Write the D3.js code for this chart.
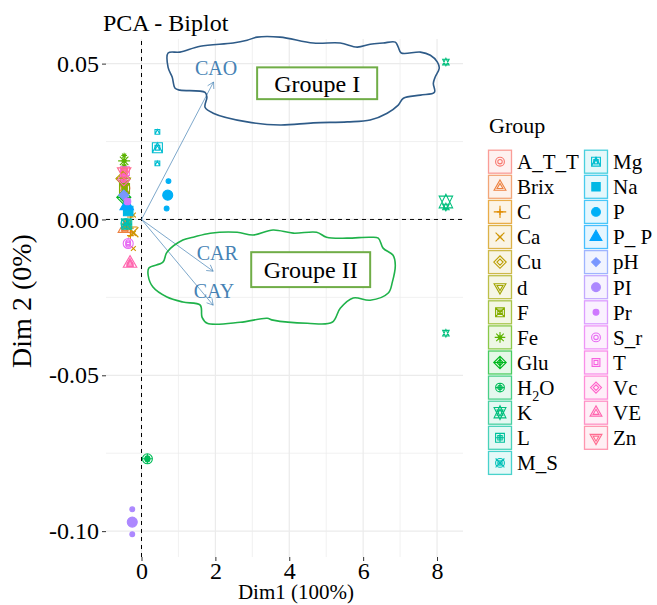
<!DOCTYPE html>
<html><head><meta charset="utf-8">
<script src="https://cdn.jsdelivr.net/npm/d3@7"></script>
<style>body{margin:0;background:#fff}text{font-family:"Liberation Serif","Times New Roman",serif}</style>
</head><body>
<svg id="c" width="657" height="605"></svg>
<script>
// ---------------- DATA ----------------
const groups = ["A_T_T","Brix","C","Ca","Cu","d","F","Fe","Glu","H2O","K","L","M_S","Mg","Na","P","P_P","pH","PI","Pr","S_r","T","Vc","VE","Zn"];
const legendLabels = ["A_T_T","Brix","C","Ca","Cu","d","F","Fe","Glu","H2O","K","L","M_S","Mg","Na","P","P_ P","pH","PI","Pr","S_r","T","Vc","VE","Zn"];
// individual points (3 per group)
const ptGroup = groups.flatMap(g => [g, g, g]);
const ptX = [
 -0.45,-0.45,-0.45,  -0.45,-0.45,-0.45,  -0.30,-0.30,-0.30,  -0.22,-0.22,-0.22,  -0.50,-0.50,-0.50,
 -0.48,-0.48,-0.48,  -0.46,-0.46,-0.46,  -0.47,-0.47,-0.47,  -0.48,-0.48,-0.48,   0.16, 0.16, 0.16,
  8.24, 8.24, 8.24,  -0.40,-0.40,-0.40,  -0.42,-0.42,-0.42,   0.43, 0.43, 0.43,  -0.36,-0.36,-0.36,
  0.73, 0.73, 0.68,  -0.40,-0.40,-0.40,  -0.48,-0.48,-0.48,  -0.25,-0.25,-0.25,  -0.38,-0.38,-0.38,
 -0.36,-0.36,-0.36,  -0.45,-0.45,-0.45,  -0.48,-0.48,-0.48,  -0.31,-0.31,-0.31,  -0.47,-0.47,-0.47];
const ptY = [
  0.0110, 0.0100, 0.0090,  -0.0024,-0.0029,-0.0034,   0.0008,-0.0028,-0.0052,   0.0014,-0.0045,-0.0093,   0.0138, 0.0131, 0.0124,
  0.0126, 0.0120, 0.0114,   0.0104, 0.0099, 0.0094,   0.0205, 0.0188, 0.0171,   0.0075, 0.0071, 0.0067,  -0.0766,-0.0768,-0.0770,
  0.0505, 0.0040,-0.0365,  -0.0010,-0.0015,-0.0020,  -0.0008,-0.0013,-0.0018,   0.0281, 0.0230, 0.0180,   0.0031, 0.0027, 0.0023,
  0.0123, 0.0076, 0.0035,   0.0048, 0.0044, 0.0040,   0.0082, 0.0078, 0.0074,  -0.0930,-0.0971,-0.1010,   0.0062, 0.0058, 0.0054,
 -0.0073,-0.0077,-0.0081,   0.0159, 0.0155, 0.0151,   0.0132, 0.0128, 0.0124,  -0.0137,-0.0141,-0.0145,   0.0157, 0.0153, 0.0149];
// group mean points
const meanX = [-0.45,-0.45,-0.30,-0.22,-0.50,-0.48,-0.46,-0.47,-0.48,0.16,8.24,-0.40,-0.42,0.43,-0.36,0.71,-0.40,-0.48,-0.25,-0.38,-0.36,-0.45,-0.48,-0.31,-0.47];
const meanY = [0.0100,-0.0029,-0.0024,-0.0041,0.0131,0.0120,0.0099,0.0188,0.0071,-0.0768,0.0056,-0.0015,-0.0013,0.0230,0.0027,0.0078,0.0044,0.0078,-0.0971,0.0058,-0.0077,0.0155,0.0128,-0.0141,0.0153];
// variables
const varNames = ["CAO","CAR","CAY"];
const varX = [1.95, 1.94, 1.94];
const varY = [0.0441, -0.0166, -0.0275];
const varLabX = [2.02, 2.05, 1.96];
const varLabY = [0.0485, -0.0108, -0.0230];
// axis ticks
const xTicks = [0, 2, 4, 6, 8];
const xMinor = [1, 3, 5, 7];
const yTicks = [-0.10, -0.05, 0.00, 0.05];
const yTickLabels = ["-0.10", "-0.05", "0.00", "0.05"];
const yMinor = [-0.075, -0.025, 0.025];
// hand-drawn group outlines (data units)
const blobI = [[0.72,0.0534],[1.04,0.0537],[1.59,0.0556],[2.48,0.0566],[2.86,0.0575],[3.13,0.0585],[3.75,0.0585],[4.65,0.0566],[5.38,0.0566],[5.84,0.0553],[6.19,0.0562],[6.54,0.0566],[6.87,0.0569],[6.95,0.0553],[7.03,0.0534],[7.55,0.0537],[7.82,0.0527],[8.01,0.0505],[8.06,0.0485],[7.95,0.0457],[7.90,0.0437],[7.93,0.0408],[7.55,0.0399],[7.09,0.0389],[6.95,0.0367],[6.65,0.0341],[6.19,0.0319],[5.57,0.0313],[4.65,0.0310],[3.75,0.0303],[2.86,0.0313],[1.94,0.0341],[1.72,0.0360],[1.77,0.0392],[1.72,0.0408],[1.04,0.0415],[0.91,0.0421],[0.83,0.0457],[0.72,0.0488]];
const blobII = [[0.20,-0.0156],[0.58,-0.0137],[0.69,-0.0105],[1.12,-0.0066],[1.40,-0.0057],[1.86,-0.0044],[2.59,-0.0041],[3.02,-0.0050],[3.56,-0.0034],[4.11,-0.0044],[4.74,-0.0041],[5.01,-0.0057],[5.57,-0.0060],[6.19,-0.0057],[6.41,-0.0060],[6.54,-0.0092],[6.81,-0.0115],[6.87,-0.0147],[6.79,-0.0201],[6.68,-0.0236],[6.19,-0.0259],[5.73,-0.0252],[5.38,-0.0285],[5.16,-0.0330],[4.49,-0.0333],[3.56,-0.0323],[3.40,-0.0317],[2.67,-0.0330],[1.78,-0.0333],[1.64,-0.0314],[1.59,-0.0275],[1.12,-0.0265],[0.69,-0.0249],[0.31,-0.0217],[0.18,-0.0179]];
const boxLabels = ["Groupe I", "Groupe II"];
const boxX0 = [3.13, 2.97], boxX1 = [6.38, 6.19];
const boxY0 = [0.0488, -0.0105], boxY1 = [0.0386, -0.0217];

// ---------------- SETUP ----------------
const svg = d3.select("#c");
const x = d3.scaleLinear().domain([-0.961, 8.703]).range([106, 463]);
const y = d3.scaleLinear().domain([-0.1083, 0.0579]).range([557, 39]);

function hclLuv(h, c, l) {
  const Xn = 95.047, Yn = 100, Zn = 108.883;
  const d = Xn + 15 * Yn + 3 * Zn, un = 4 * Xn / d, vn = 9 * Yn / d;
  const hr = h * Math.PI / 180, u = c * Math.cos(hr), v = c * Math.sin(hr);
  const Y = Yn * Math.pow((l + 16) / 116, 3);
  const up = u / (13 * l) + un, vp = v / (13 * l) + vn;
  const X = Y * 9 * up / (4 * vp), Z = Y * (12 - 3 * up - 20 * vp) / (4 * vp);
  const X1 = X / 100, Y1 = Y / 100, Z1 = Z / 100;
  const lin = [3.2404542 * X1 - 1.5371385 * Y1 - 0.4985314 * Z1,
               -0.9692660 * X1 + 1.8760108 * Y1 + 0.0415560 * Z1,
               0.0556434 * X1 - 0.2040259 * Y1 + 1.0572252 * Z1];
  const g = lin.map(t => { t = t <= 0.0031308 ? 12.92 * t : 1.055 * Math.pow(t, 1 / 2.4) - 0.055; return Math.round(Math.max(0, Math.min(1, t)) * 255); });
  return d3.rgb(g[0], g[1], g[2]).formatHex();
}
const color = d3.scaleOrdinal().domain(groups).range(groups.map((g, i) => hclLuv(15 + 360 * i / groups.length, 100, 65)));
const shapeOf = d3.scaleOrdinal().domain(groups).range(groups.map((g, i) => i + 1));

// R pch geometry
const SQRC = 0.886227, DMDC = 1.253314, TRC0 = 1.555120, TRC1 = 1.346774, TRC2 = 0.777560;
const circ = r => `M${-r},0A${r},${r} 0 1,0 ${r},0A${r},${r} 0 1,0 ${-r},0Z`;
const sq = h => `M${-h},${-h}H${h}V${h}H${-h}Z`;
const dia = h => `M${-h},0L0,${-h}L${h},0L0,${h}Z`;
const plus = h => `M${-h},0H${h}M0,${-h}V${h}`;
const cross = h => `M${-h},${-h}L${h},${h}M${-h},${h}L${h},${-h}`;
const tri = (R, down) => { const r = TRC0 * R, xc = TRC1 * R, yc = TRC2 * R; const s = down ? -1 : 1; return `M0,${-s * r}L${xc},${s * yc}L${-xc},${s * yc}Z`; };
function shapeParts(id, R) {
  switch (id) {
    case 1: return [[circ(R), 0]];
    case 2: return [[tri(R), 0]];
    case 3: return [[plus(Math.SQRT2 * R), 0]];
    case 4: return [[cross(R), 0]];
    case 5: return [[dia(Math.SQRT2 * R), 0]];
    case 6: return [[tri(R, true), 0]];
    case 7: return [[sq(R) + cross(R), 0]];
    case 8: return [[plus(R * 1.2) + cross(R * 0.85), 0]];
    case 9: return [[dia(Math.SQRT2 * R) + plus(Math.SQRT2 * R), 0]];
    case 10: return [[circ(R) + plus(R), 0]];
    case 11: { const r = TRC0 * R, yc = 0.5 * (TRC2 * R + r), xc = TRC1 * R;
      return [[`M0,${-r}L${xc},${yc}L${-xc},${yc}ZM0,${r}L${xc},${-yc}L${-xc},${-yc}Z`, 0]]; }
    case 12: return [[sq(R) + plus(R), 0]];
    case 13: return [[circ(R) + cross(R), 0]];
    case 14: return [[sq(R) + `M${-R},${R}L0,${-R}L${R},${R}`, 0]];
    case 15: return [[sq(R * 0.95), 1]];
    case 16: return [[circ(R), 1]];
    case 17: return [[tri(R), 1]];
    case 18: return [[dia(R), 1]];
    case 19: return [[circ(R), 1]];
    case 20: return [[circ(R * 2 / 3), 1]];
    case 21: return [[circ(R), 0]];
    case 22: return [[sq(R * SQRC), 0]];
    case 23: return [[dia(R * DMDC), 0]];
    case 24: return [[tri(R), 0]];
    case 25: return [[tri(R, true), 0]];
  }
}
function drawShape(g, id, cx, cy, R, col) {
  shapeParts(id, R).forEach(([d, filled]) => {
    g.append("path").attr("d", d).attr("transform", `translate(${cx},${cy})`)
      .attr("fill", filled ? col : "none").attr("stroke", col).attr("stroke-width", 1.1);
  });
}

// ---------------- GRID ----------------
const grid = svg.append("g");
grid.selectAll(".xm").data(xMinor).join("line").attr("x1", d => x(d)).attr("x2", d => x(d)).attr("y1", y.range()[0]).attr("y2", y.range()[1]).attr("stroke", "#ebebeb").attr("stroke-width", 0.7);
grid.selectAll(".ym").data(yMinor).join("line").attr("y1", d => y(d)).attr("y2", d => y(d)).attr("x1", x.range()[0]).attr("x2", x.range()[1]).attr("stroke", "#ebebeb").attr("stroke-width", 0.7);
grid.selectAll(".xM").data(xTicks).join("line").attr("x1", d => x(d)).attr("x2", d => x(d)).attr("y1", y.range()[0]).attr("y2", y.range()[1]).attr("stroke", "#ebebeb").attr("stroke-width", 1.2);
grid.selectAll(".yM").data(yTicks).join("line").attr("y1", d => y(d)).attr("y2", d => y(d)).attr("x1", x.range()[0]).attr("x2", x.range()[1]).attr("stroke", "#ebebeb").attr("stroke-width", 1.2);

// axes
const xAxis = d3.axisBottom(x).tickValues(xTicks).tickSize(4).tickPadding(1).tickFormat(d3.format("d"));
const gx = svg.append("g").attr("transform", `translate(0,${y.range()[0]})`).call(xAxis);
gx.select(".domain").remove();
gx.selectAll(".tick line").attr("stroke", "#333");
gx.selectAll(".tick text").attr("fill", "#000").attr("font-size", 24).attr("font-family", "Liberation Serif");
const yAxis = d3.axisLeft(y).tickValues(yTicks).tickSize(4).tickPadding(3).tickFormat((d, i) => yTickLabels[i]);
const gy = svg.append("g").attr("transform", `translate(${x.range()[0]},0)`).call(yAxis);
gy.select(".domain").remove();
gy.selectAll(".tick line").attr("stroke", "#333");
gy.selectAll(".tick text").attr("fill", "#000").attr("font-size", 24).attr("font-family", "Liberation Serif");

// zero lines
svg.append("line").attr("x1", x(0)).attr("x2", x(0)).attr("y1", y.range()[0]).attr("y2", y.range()[1]).attr("stroke", "#000").attr("stroke-width", 1).attr("stroke-dasharray", "4,4");
svg.append("line").attr("y1", y(0)).attr("y2", y(0)).attr("x1", x.range()[0]).attr("x2", x.range()[1]).attr("stroke", "#000").attr("stroke-width", 1).attr("stroke-dasharray", "4,4");

// ---------------- POINTS ----------------
const pts = svg.append("g");
ptX.forEach((vx, i) => drawShape(pts, shapeOf(ptGroup[i]), x(vx), y(ptY[i]), 2.4, color(ptGroup[i])));
groups.forEach((g, i) => drawShape(pts, shapeOf(g), x(meanX[i]), y(meanY[i]), 5.0, color(g)));

// ---------------- VARIABLE ARROWS ----------------
const arr = svg.append("g");
varNames.forEach((n, i) => {
  const x0 = x(0), y0 = y(0), x1 = x(varX[i]), y1 = y(varY[i]);
  const a = Math.atan2(y1 - y0, x1 - x0), L = 7, ang = Math.PI / 6;
  arr.append("line").attr("x1", x0).attr("y1", y0).attr("x2", x1).attr("y2", y1).attr("stroke", "#4682b4").attr("stroke-width", 0.7);
  arr.append("path").attr("d", `M${x1 - L * Math.cos(a - ang)},${y1 - L * Math.sin(a - ang)}L${x1},${y1}L${x1 - L * Math.cos(a + ang)},${y1 - L * Math.sin(a + ang)}`)
    .attr("fill", "none").attr("stroke", "#4682b4").attr("stroke-width", 0.7);
  arr.append("text").attr("x", x(varLabX[i])).attr("y", y(varLabY[i])).attr("dy", "0.35em").attr("text-anchor", "middle")
    .attr("font-size", 20).attr("fill", "#4682b4").text(n);
});

// ---------------- GROUP OUTLINES ----------------
const line = d3.line().x(d => x(d[0])).y(d => y(d[1])).curve(d3.curveCatmullRomClosed.alpha(0.5));
svg.append("path").attr("d", line(blobI)).attr("fill", "none").attr("stroke", "#2e5b88").attr("stroke-width", 1.6);
svg.append("path").attr("d", line(blobII)).attr("fill", "none").attr("stroke", "#1fb24a").attr("stroke-width", 1.6);
boxLabels.forEach((t, i) => {
  svg.append("rect").attr("x", x(boxX0[i])).attr("y", y(boxY0[i])).attr("width", x(boxX1[i]) - x(boxX0[i])).attr("height", y(boxY1[i]) - y(boxY0[i]))
    .attr("fill", "#fff").attr("stroke", "#70ad47").attr("stroke-width", 2);
  svg.append("text").attr("x", (x(boxX0[i]) + x(boxX1[i])) / 2).attr("y", (y(boxY0[i]) + y(boxY1[i])) / 2).attr("dy", "0.35em")
    .attr("text-anchor", "middle").attr("font-size", 24).attr("fill", "#000").text(t);
});

// ---------------- TITLES ----------------
svg.append("text").attr("x", 103).attr("y", 31).attr("font-size", 24).text("PCA - Biplot");
svg.append("text").attr("x", 296).attr("y", 599).attr("text-anchor", "middle").attr("font-size", 21).text("Dim1 (100%)");
svg.append("text").attr("transform", `translate(31,301) rotate(-90)`).attr("text-anchor", "middle").attr("font-size", 28).text("Dim 2 (0%)");

// ---------------- LEGEND ----------------
const leg = svg.append("g");
leg.append("text").attr("x", 489).attr("y", 133).attr("font-size", 22).text("Group");
const perCol = 13, colX = [488, 584], row0 = 161.7, pitch = 25.1;
groups.forEach((g, i) => {
  const c = Math.floor(i / perCol), r = i % perCol;
  const kx = colX[c], cy = row0 + r * pitch, col = color(g);
  leg.append("rect").attr("x", kx + 0.5).attr("y", cy - 11.5).attr("width", 23).attr("height", 23)
    .attr("fill", col).attr("fill-opacity", 0.1).attr("stroke", col).attr("stroke-opacity", 0.7).attr("stroke-width", 1.3);
  drawShape(leg, shapeOf(g), kx + 12, cy, 2.2, col);
  drawShape(leg, shapeOf(g), kx + 12, cy, 4.4, col);
  const t = leg.append("text").attr("x", kx + 29).attr("y", cy).attr("dy", "0.35em").attr("font-size", 21);
  if (legendLabels[i] === "H2O") {
    t.append("tspan").text("H");
    t.append("tspan").attr("font-size", 14).attr("dy", "0.45em").text("2");
    t.append("tspan").attr("dy", "-0.3em").text("O");
  } else t.text(legendLabels[i]);
});
</script>
</body></html>
